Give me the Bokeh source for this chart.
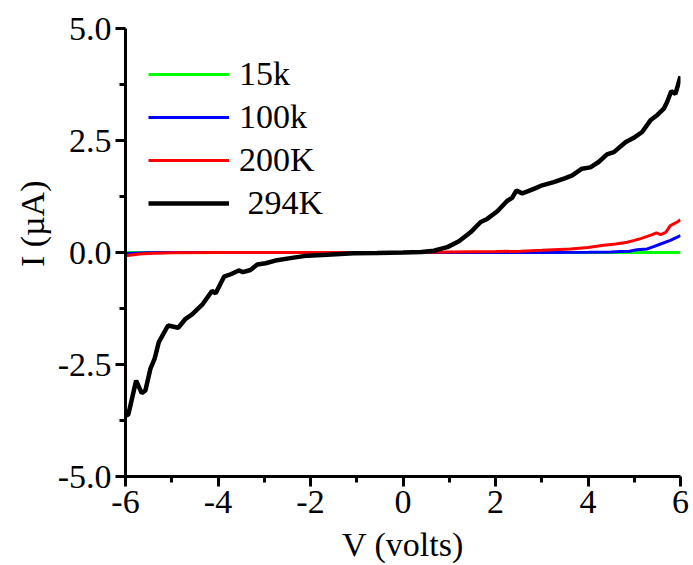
import math
from bokeh.plotting import figure
from bokeh.models import (FixedTicker, PrintfTickFormatter, Legend, LegendItem,
                          Range1d, Title)
from bokeh.embed import file_html
from bokeh.resources import INLINE

# ---------------- data ----------------
x_ticks = [-6, -4, -2, 0, 2, 4, 6]
x_minor = [-5, -3, -1, 1, 3, 5]
y_ticks = [-5.0, -2.5, 0.0, 2.5, 5.0]
y_minor = [-3.75, -1.25, 1.25, 3.75]

labels = ["15k", "100k", "200K", " 294K"]

green_v = [-6.0, -3.0, 0.0, 3.0, 6.0]
green_i = [0.0, 0.0, 0.0, 0.0, 0.0]

blue_v = [-6.0, -5.5, -5.0, 0.0, 3.0, 4.0, 4.5, 4.7, 4.9, 5.06, 5.28, 5.42, 5.57, 5.78, 6.0]
blue_i = [-0.02, -0.005, 0.0, 0.0, 0.0, 0.005, 0.01, 0.02, 0.03, 0.06, 0.08, 0.13, 0.19, 0.27, 0.38]

red_v = [-6.0, -5.7, -5.4, -5.0, -4.0, -2.0, 0.0, 1.0, 2.0, 2.54, 3.0, 3.62, 4.0, 4.34,
         4.6, 4.85, 5.0, 5.14, 5.28, 5.39, 5.48, 5.57, 5.68, 5.78, 5.93, 6.0]
red_i = [-0.07, -0.035, -0.015, -0.005, 0.0, 0.0, 0.0, 0.01, 0.02, 0.03, 0.05, 0.08, 0.11, 0.16,
         0.19, 0.23, 0.27, 0.31, 0.36, 0.40, 0.44, 0.40, 0.45, 0.60, 0.68, 0.73]

black_v = [-6.0, -5.94, -5.77, -5.65, -5.57, -5.46, -5.37, -5.28, -5.08, -4.86, -4.70, -4.56,
           -4.33, -4.13, -4.05, -3.87, -3.71, -3.55, -3.46, -3.30, -3.15, -2.97, -2.76, -2.4,
           -2.07, -1.64, -1.07, -0.56, 0.0, 0.4, 0.67, 0.81, 0.96, 1.21, 1.46, 1.68, 1.82, 2.04,
           2.25, 2.36, 2.45, 2.58, 2.83, 3.01, 3.26, 3.51, 3.66, 3.87, 4.05, 4.23, 4.41, 4.56,
           4.81, 4.99, 5.17, 5.35, 5.50, 5.64, 5.71, 5.80, 5.89, 6.0]
black_i = [-3.64, -3.62, -2.86, -3.14, -3.08, -2.59, -2.37, -2.00, -1.63, -1.68, -1.48, -1.38,
           -1.15, -0.86, -0.91, -0.54, -0.48, -0.40, -0.44, -0.39, -0.27, -0.24, -0.18, -0.12,
           -0.07, -0.05, -0.015, -0.01, 0.0, 0.01, 0.04, 0.08, 0.12, 0.25, 0.45, 0.68, 0.75, 0.92,
           1.15, 1.22, 1.38, 1.32, 1.42, 1.50, 1.57, 1.66, 1.72, 1.87, 1.90, 2.02, 2.19, 2.24,
           2.46, 2.56, 2.69, 2.95, 3.07, 3.21, 3.36, 3.60, 3.54, 3.93]

# ---------------- figure ----------------
FONT = "Times"
FS = "34px"

p = figure(output_backend="svg", toolbar_location=None,
           frame_width=555, frame_height=448,
           x_range=Range1d(-6, 6), y_range=Range1d(-5, 5),
           min_border_left=125, min_border_right=12,
           min_border_top=28, min_border_bottom=86,
           background_fill_color="white", border_fill_color="white")
p.outline_line_color = None
p.grid.visible = False

r_g = p.line(green_v, green_i, line_color="#00ff00", line_width=3)
r_b = p.line(blue_v, blue_i, line_color="#0000ff", line_width=3)
r_r = p.line(red_v, red_i, line_color="#ff0000", line_width=3)
r_k = p.line(black_v, black_i, line_color="#000000", line_width=4.5)

for ax in (p.xaxis[0], p.yaxis[0]):
    ax.axis_line_width = 3
    ax.axis_line_color = "black"
    ax.major_tick_line_width = 3
    ax.minor_tick_line_width = 3
    ax.major_tick_in = 0
    ax.major_tick_out = 10
    ax.minor_tick_in = 0
    ax.minor_tick_out = 6
    ax.major_label_text_font = FONT
    ax.major_label_text_font_size = FS
    ax.major_label_text_font_style = "normal"
    ax.major_label_text_color = "black"
    ax.major_label_standoff = 4

p.xaxis[0].ticker = FixedTicker(ticks=x_ticks, minor_ticks=x_minor)
p.yaxis[0].ticker = FixedTicker(ticks=y_ticks, minor_ticks=y_minor)
p.xaxis[0].formatter = PrintfTickFormatter(format="%d")
p.yaxis[0].formatter = PrintfTickFormatter(format="%.1f")

p.xaxis[0].axis_label = "V (volts)"
p.xaxis[0].axis_label_text_font = FONT
p.xaxis[0].axis_label_text_font_size = FS
p.xaxis[0].axis_label_text_font_style = "normal"
p.xaxis[0].axis_label_text_color = "black"
p.xaxis[0].axis_label_standoff = 10

ytitle = Title(text="I (µA)", align="right", offset=152, standoff=8,
               text_font=FONT, text_font_size=FS, text_font_style="normal",
               text_color="black")
p.add_layout(ytitle, "left")

legend = Legend(items=[LegendItem(label=labels[0], renderers=[r_g]),
                       LegendItem(label=labels[1], renderers=[r_b]),
                       LegendItem(label=labels[2], renderers=[r_r]),
                       LegendItem(label=labels[3], renderers=[r_k])],
                location=(23, 254), margin=0, padding=0, spacing=5,
                glyph_width=81, glyph_height=38, label_height=38,
                label_standoff=10, label_text_font=FONT, label_text_font_size=FS,
                label_text_font_style="normal", label_text_color="black",
                border_line_alpha=0, background_fill_alpha=0)
p.add_layout(legend)

open("out.html", "w").write(file_html(p, INLINE))
